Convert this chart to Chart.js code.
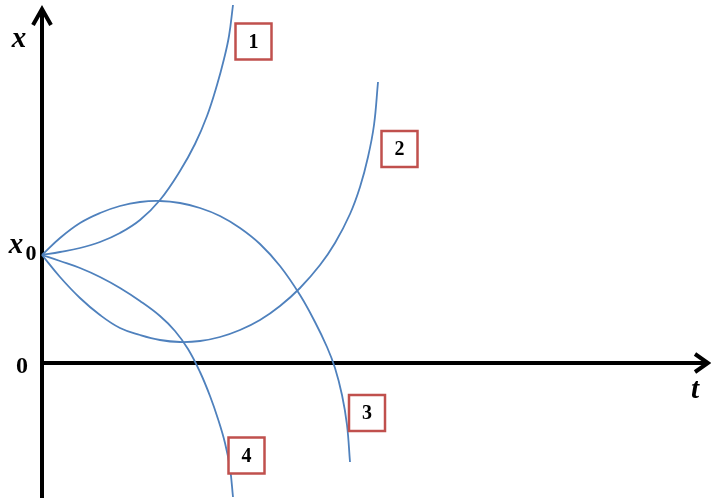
<!DOCTYPE html>
<html lang="en">
<head>
    <meta charset="UTF-8">
    <title>x(t) curves</title>
    <script src="https://cdn.jsdelivr.net/npm/chart.js"></script>
    <style>
        html, body { margin: 0; padding: 0; background: #fff; }
        canvas { display: block; }
    </style>
</head>
<body>
    <canvas id="curves" width="711" height="498"></canvas>

    <script>
        // t values and x values of each curve
        const t1 = [0, 0.18, 0.38, 0.58, 0.78, 0.98, 1.18, 1.38, 1.53, 1.65, 1.75, 1.82, 1.87, 1.91];
        const x1 = [1.08, 1.11, 1.15, 1.21, 1.30, 1.43, 1.63, 1.92, 2.19, 2.47, 2.78, 3.04, 3.27, 3.58];

        const t2 = [0, 0.18, 0.38, 0.58, 0.78, 0.98, 1.18, 1.38, 1.58, 1.78, 1.98, 2.18, 2.38, 2.58, 2.78, 2.93, 3.08, 3.18, 3.26, 3.32, 3.36];
        const x2 = [1.08, 0.86, 0.65, 0.48, 0.35, 0.28, 0.23, 0.21, 0.22, 0.26, 0.33, 0.43, 0.57, 0.75, 0.98, 1.20, 1.49, 1.76, 2.06, 2.38, 2.81];

        const t3 = [0, 0.18, 0.38, 0.58, 0.78, 0.98, 1.18, 1.38, 1.58, 1.78, 1.98, 2.18, 2.38, 2.58, 2.73, 2.85, 2.93, 3.00, 3.05, 3.08];
        const x3 = [1.08, 1.25, 1.40, 1.50, 1.57, 1.61, 1.62, 1.60, 1.55, 1.47, 1.35, 1.19, 0.97, 0.68, 0.41, 0.16, -0.05, -0.32, -0.62, -0.99];

        const t4 = [0, 0.18, 0.38, 0.58, 0.78, 0.98, 1.18, 1.33, 1.46, 1.58, 1.68, 1.76, 1.83, 1.88, 1.91];
        const x4 = [1.08, 1.02, 0.95, 0.86, 0.75, 0.62, 0.47, 0.32, 0.14, -0.09, -0.33, -0.56, -0.80, -1.05, -1.34];

        const curveNames = ['1', '2', '3', '4'];

        function toPoints(ts, xs) {
            return ts.map((t, i) => ({ x: t, y: xs[i] }));
        }

        // axes, arrows, labels and numbered boxes
        const axesPlugin = {
            id: 'axes',
            beforeDatasetsDraw(chart) {
                const ctx = chart.ctx;
                const sx = chart.scales.x, sy = chart.scales.y;
                const ox = sx.getPixelForValue(0);
                const oy = sy.getPixelForValue(0);
                ctx.save();
                ctx.strokeStyle = '#000';
                ctx.lineWidth = 4;
                ctx.lineCap = 'butt';
                ctx.lineJoin = 'miter';
                // vertical axis
                ctx.beginPath();
                ctx.moveTo(ox, chart.height);
                ctx.lineTo(ox, 9);
                ctx.stroke();
                ctx.beginPath();
                ctx.moveTo(ox - 9, 25);
                ctx.lineTo(ox, 9);
                ctx.lineTo(ox + 9, 25);
                ctx.stroke();
                // horizontal axis
                ctx.beginPath();
                ctx.moveTo(ox, oy);
                ctx.lineTo(chart.width - 3, oy);
                ctx.stroke();
                ctx.beginPath();
                ctx.moveTo(chart.width - 16, oy - 9);
                ctx.lineTo(chart.width - 3, oy);
                ctx.lineTo(chart.width - 16, oy + 9);
                ctx.stroke();

                ctx.fillStyle = '#000';
                ctx.textAlign = 'center';
                ctx.textBaseline = 'alphabetic';
                ctx.font = 'bold italic 29px "Liberation Serif"';
                ctx.fillText('x', 19, 47);
                ctx.fillText('t', 695, 398);
                ctx.fillText('x', 16, 253);
                ctx.font = 'bold 22px "Liberation Serif"';
                ctx.fillText('0', 31, 260);
                ctx.font = 'bold 24px "Liberation Serif"';
                ctx.fillText('0', 22, 373);
                ctx.restore();
            },
            afterDatasetsDraw(chart) {
                const ctx = chart.ctx;
                const sx = chart.scales.x, sy = chart.scales.y;
                // box centres in chart units
                const boxes = [[2.115, 3.215], [3.575, 2.14], [3.25, -0.50], [2.045, -0.925]];
                ctx.save();
                boxes.forEach((b, i) => {
                    const cx = sx.getPixelForValue(b[0]);
                    const cy = sy.getPixelForValue(b[1]);
                    ctx.fillStyle = '#fff';
                    ctx.fillRect(cx - 18, cy - 18, 36, 36);
                    ctx.strokeStyle = '#c0504d';
                    ctx.lineWidth = 2.5;
                    ctx.strokeRect(cx - 18, cy - 18, 36, 36);
                    ctx.fillStyle = '#000';
                    ctx.font = 'bold 20px "Liberation Serif"';
                    ctx.textAlign = 'center';
                    ctx.textBaseline = 'middle';
                    ctx.fillText(curveNames[i], cx, cy + 1);
                });
                ctx.restore();
            }
        };

        const series = [[t1, x1], [t2, x2], [t3, x3], [t4, x4]];
        const datasets = series.map((s, i) => ({
            label: curveNames[i],
            data: toPoints(s[0], s[1]),
            showLine: true,
            borderColor: '#4f81bd',
            borderWidth: 1.8,
            pointRadius: 0,
            tension: 0.4,
            fill: false
        }));

        const ctx = document.getElementById('curves').getContext('2d');
        new Chart(ctx, {
            type: 'scatter',
            data: { datasets: datasets },
            options: {
                responsive: false,
                animation: false,
                layout: { padding: 0 },
                plugins: {
                    legend: { display: false },
                    tooltip: { enabled: false }
                },
                scales: {
                    x: { type: 'linear', min: -0.42, max: 6.69, display: false },
                    y: { type: 'linear', min: -1.35, max: 3.63, display: false }
                }
            },
            plugins: [axesPlugin]
        });
    </script>
</body>
</html>
